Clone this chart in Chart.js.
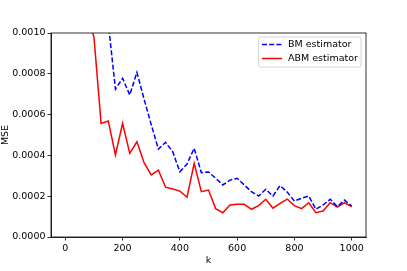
<!DOCTYPE html>
<html>
<head>
<meta charset="utf-8">
<script src="https://cdn.jsdelivr.net/npm/chart.js@4.4.0/dist/chart.umd.min.js"></script>
<style>
  html, body { margin: 0; padding: 0; background: #ffffff; }
  #wrap { width: 407px; height: 271px; }
</style>
</head>
<body>
<div id="wrap"><canvas id="chartMse" width="407" height="271"></canvas></div>
<script>
// k values (matplotlib autoscale suggests the data starts at k = 0)
var kValues = [0, 25, 50, 75, 100, 125, 150, 175, 200, 225, 250, 275, 300, 325, 350, 375,
    400, 425, 450, 475, 500, 525, 550, 575, 600, 625, 650, 675, 700, 725, 750, 775,
    800, 825, 850, 875, 900, 925, 950, 975, 1000];

// BM estimator (blue dashed) - first values sit above the visible range
var bmValues = [0.0050, 0.0040, 0.0030, 0.0022, 0.0016, 0.0012, 0.00105, 0.000725,
    0.000778, 0.000696, 0.000807, 0.000676, 0.000551, 0.000431, 0.000464, 0.000418,
    0.000320, 0.000358, 0.000435, 0.000315, 0.000319, 0.000288, 0.000255, 0.000279,
    0.000288, 0.000255, 0.000222, 0.000201, 0.000234, 0.000201, 0.000252, 0.000220,
    0.000176, 0.000190, 0.000201, 0.000136, 0.000157, 0.000185, 0.000149, 0.000181,
    0.000152];

// ABM estimator (red solid)
var abmValues = [0.0040, 0.0028, 0.0018, 0.00109, 0.00098, 0.000557, 0.000569, 0.000402,
    0.000557, 0.000410, 0.000467, 0.000364, 0.000304, 0.000328, 0.000244, 0.000235,
    0.000225, 0.000195, 0.000361, 0.000222, 0.000230, 0.000139, 0.000119, 0.000157,
    0.000160, 0.000160, 0.000136, 0.000154, 0.000185, 0.000141, 0.000165, 0.000186,
    0.000154, 0.000139, 0.000168, 0.000119, 0.000127, 0.000168, 0.000146, 0.000168,
    0.000149];

var seriesLabels = ['BM estimator', 'ABM estimator'];
var xTicks = [0, 200, 400, 600, 800, 1000];
var yTicks = [0, 0.0002, 0.0004, 0.0006, 0.0008, 0.0010];

var FONT = "'DejaVu Sans', sans-serif";
Chart.defaults.font.family = FONT;
Chart.defaults.font.size = 9.5;
Chart.defaults.color = '#000000';

function toPoints(values) {
    return kValues.map(function(k, i) { return { x: k, y: values[i] }; });
}

// draws the top/right spines and the in-plot legend, matplotlib style
var framePlugin = {
    id: 'frameAndLegend',
    afterDatasetsDraw: function(chart) {
        var ctx = chart.ctx;
        var a = chart.chartArea;
        ctx.save();
        ctx.strokeStyle = '#000000';
        ctx.lineWidth = 0.8;
        ctx.strokeRect(a.left, a.top, a.right - a.left, a.bottom - a.top);

        // legend box
        var bx = 258.5, by = 37, bw = 102.5, bh = 30;
        ctx.fillStyle = 'rgba(255,255,255,0.8)';
        ctx.strokeStyle = '#cccccc';
        ctx.lineWidth = 0.8;
        ctx.beginPath();
        ctx.roundRect(bx, by, bw, bh, 2);
        ctx.fill();
        ctx.stroke();

        var rows = [
            { label: seriesLabels[0], color: '#0000ff', dash: [5, 2.2], y: 44.5 },
            { label: seriesLabels[1], color: '#ff0000', dash: [], y: 58.5 }
        ];
        ctx.font = '9.5px ' + FONT;
        ctx.textBaseline = 'middle';
        rows.forEach(function(r) {
            ctx.strokeStyle = r.color;
            ctx.lineWidth = 1.5;
            ctx.setLineDash(r.dash);
            ctx.beginPath();
            ctx.moveTo(262, r.y);
            ctx.lineTo(282, r.y);
            ctx.stroke();
            ctx.setLineDash([]);
            ctx.fillStyle = '#000000';
            ctx.fillText(r.label, 288, r.y);
        });
        ctx.restore();
    }
};

new Chart(document.getElementById('chartMse').getContext('2d'), {
    type: 'line',
    data: {
        datasets: [
            {
                label: seriesLabels[0],
                data: toPoints(bmValues),
                borderColor: '#0000ff',
                borderWidth: 1.5,
                borderDash: [5, 2.2],
                pointRadius: 0,
                fill: false,
                tension: 0,
                clip: 0
            },
            {
                label: seriesLabels[1],
                data: toPoints(abmValues),
                borderColor: '#ff0000',
                borderWidth: 1.5,
                pointRadius: 0,
                fill: false,
                tension: 0,
                clip: 0
            }
        ]
    },
    options: {
        responsive: false,
        animation: false,
        layout: {
            padding: { top: 33, right: 41, bottom: 5, left: 0 }
        },
        plugins: {
            legend: { display: false },
            tooltip: { enabled: false }
        },
        scales: {
            x: {
                type: 'linear',
                min: -50,
                max: 1050,
                afterBuildTicks: function(scale) {
                    scale.ticks = xTicks.map(function(v) { return { value: v }; });
                },
                afterFit: function(scale) { scale.height = 29; },
                grid: {
                    drawOnChartArea: false,
                    drawTicks: true,
                    tickLength: 3.5,
                    color: '#000000',
                    lineWidth: 0.8
                },
                border: { display: true, color: '#000000', width: 0.8 },
                ticks: {
                    padding: 2,
                    maxRotation: 0,
                    callback: function(value) { return String(value); }
                },
                title: {
                    display: true,
                    text: 'k',
                    padding: { top: 1, bottom: 0 },
                    font: { size: 9.5 }
                }
            },
            y: {
                type: 'linear',
                min: 0,
                max: 0.001,
                afterBuildTicks: function(scale) {
                    scale.ticks = yTicks.map(function(v) { return { value: v }; });
                },
                afterFit: function(scale) { scale.width = 51; },
                grid: {
                    drawOnChartArea: false,
                    drawTicks: true,
                    tickLength: 3.5,
                    color: '#000000',
                    lineWidth: 0.8
                },
                border: { display: true, color: '#000000', width: 0.8 },
                ticks: {
                    padding: 2,
                    callback: function(value) { return Number(value).toFixed(4); }
                },
                title: {
                    display: true,
                    text: 'MSE',
                    padding: { top: 0, bottom: 0 },
                    font: { size: 9.5 }
                }
            }
        }
    },
    plugins: [framePlugin]
});
</script>
</body>
</html>
